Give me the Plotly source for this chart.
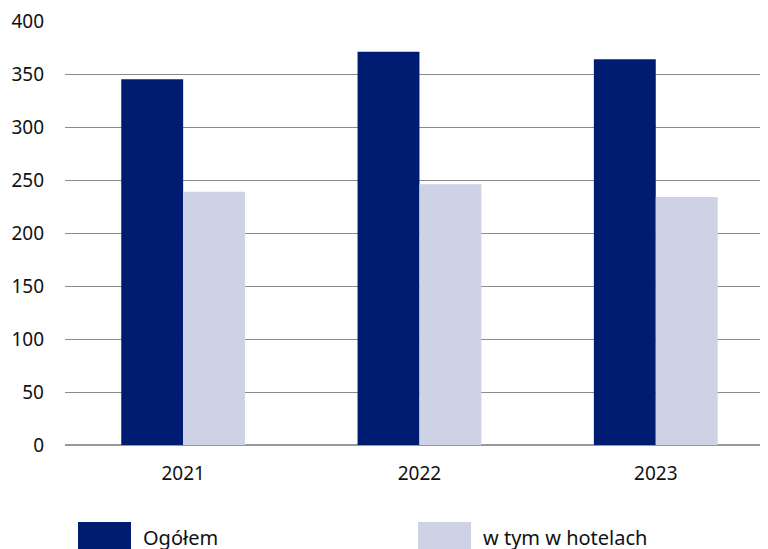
import plotly.graph_objects as go

years = ["2021", "2022", "2023"]
ogolem = [345, 371, 364]
hotele = [239, 246, 234]
series_names = ["Ogółem", "w tym w hotelach"]
colors = ["#001C72", "#CDD2E4"]
y_ticks = [0, 50, 100, 150, 200, 250, 300, 350, 400]

FONT = "Noto Sans, Open Sans, sans-serif"

# page body has an 8px default margin; plot area target in window pixels:
PLOT_L, PLOT_R, PLOT_T, PLOT_B = 65, 768, 21, 445
PLOT_W = PLOT_R - PLOT_L
PLOT_H = PLOT_B - PLOT_T


def px(x):
    return (x - PLOT_L) / PLOT_W


def py(y):
    return (PLOT_B - y) / PLOT_H


fig = go.Figure()
fig.add_trace(go.Bar(x=years, y=ogolem, name=series_names[0],
                     marker=dict(color=colors[0], line=dict(width=0))))
fig.add_trace(go.Bar(x=years, y=hotele, name=series_names[1],
                     marker=dict(color=colors[1], line=dict(width=0))))

# custom legend with large swatches
legend_x = [78, 418]
for i, name in enumerate(series_names):
    fig.add_shape(type="rect", xref="paper", yref="paper",
                  x0=px(legend_x[i]), x1=px(legend_x[i] + 53),
                  y0=py(560), y1=py(522),
                  fillcolor=colors[i], line=dict(width=0), layer="above")
    fig.add_annotation(x=px(legend_x[i] + 63), y=py(537), xref="paper", yref="paper",
                       text=name, showarrow=False, xanchor="left", yanchor="middle",
                       font=dict(size=20, color="#111111", family=FONT))

fig.update_layout(
    width=760, height=541,
    margin=dict(l=PLOT_L - 8, r=0, t=PLOT_T - 8, b=549 - PLOT_B),
    paper_bgcolor="white", plot_bgcolor="white",
    barmode="group", bargap=0.476, bargroupgap=0,
    showlegend=False,
    font=dict(family=FONT, size=19, color="#111111"),
    xaxis=dict(range=[-0.5, 2.475], showgrid=False, ticks="", showline=False,
               tickfont=dict(size=19), ticklabelstandoff=15, fixedrange=True),
    yaxis=dict(range=[0, 400], tickvals=y_ticks, showgrid=True,
               gridcolor="#8a8a8a", gridwidth=1, zeroline=True,
               zerolinecolor="#999999", zerolinewidth=2, ticks="",
               tickfont=dict(size=19), ticklabelstandoff=20, showline=False,
               ticklabeloverflow="allow"),
)

fig.write_html("out.html")
